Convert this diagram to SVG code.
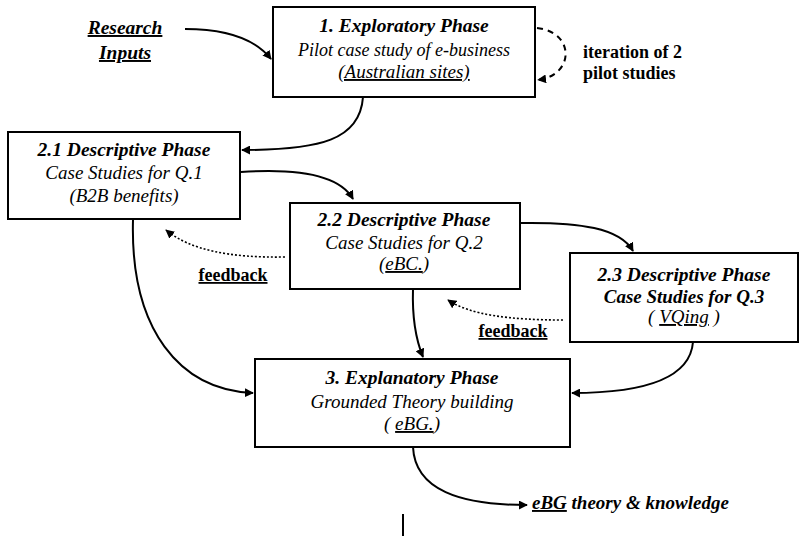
<svg xmlns="http://www.w3.org/2000/svg" width="799" height="536" viewBox="0 0 799 536">
<defs>
<marker id="ah" viewBox="0 0 10 10" refX="9" refY="5" markerWidth="9" markerHeight="9" markerUnits="userSpaceOnUse" orient="auto">
<path d="M0,0 L10,5 L0,10 z" fill="#000"/>
</marker>
<style>
.box{fill:#fff;stroke:#000;stroke-width:2}
text{font-family:'Liberation Serif','Times New Roman',serif;fill:#000;text-anchor:middle}
.t{font-size:19.5px;font-weight:bold;font-style:italic}
.s{font-size:19px;font-style:italic}
.u{text-decoration:underline}
.lab{font-size:18px;font-weight:bold}
.c{fill:none;stroke:#000;stroke-width:2;marker-end:url(#ah)}
.dash{stroke-dasharray:6,5}
.dot{stroke-width:1.6;stroke-dasharray:2,2}
</style>
</defs>
<rect width="799" height="536" fill="#fff"/>
<g id="connectors">
<path class="c" d="M185,29 C230,29 256,40 271,59"/>
<path class="c" d="M363,97 C360,140 320,150 242,150"/>
<path class="c dash" d="M537,28 C575,32 575,75 538,80"/>
<path class="c" d="M241,172 C300,168 340,176 353,199"/>
<path class="c" d="M520,223 C580,222 620,228 633,251"/>
<path class="c dot" d="M285,257 C230,258 190,250 166,230"/>
<path class="c dot" d="M563,320 C510,320 470,315 448,300"/>
<path class="c" d="M133,220 C130,330 180,390 253,393"/>
<path class="c" d="M413,289 C412,320 416,340 423,357"/>
<path class="c" d="M693,342 C690,380 640,393 572,393"/>
<path class="c" d="M413,447 C415,490 460,505 527,505"/>
<line x1="403" y1="514" x2="403" y2="536" stroke="#000" stroke-width="2"/>
</g>
<g id="research-inputs">
<text class="t u" x="125" y="34">Research</text>
<text class="t u" x="125" y="59">Inputs</text>
</g>
<g id="phase1">
<rect class="box" x="273" y="7" width="262" height="90"/>
<text class="t" x="404" y="32">1. Exploratory Phase</text>
<text class="s" x="404" y="56" style="font-size:18px">Pilot case study of e-business</text>
<text class="s u" x="404" y="78">(Australian sites)</text>
</g>
<g id="iteration-label">
<text class="lab" x="583" y="58" style="text-anchor:start">iteration of 2</text>
<text class="lab" x="583" y="79" style="text-anchor:start">pilot studies</text>
</g>
<g id="phase21">
<rect class="box" x="8" y="132" width="232" height="87"/>
<text class="t" x="124" y="156">2.1 Descriptive Phase</text>
<text class="s" x="124" y="179">Case Studies for Q.1</text>
<text class="s" x="124" y="202">(B2B benefits)</text>
</g>
<g id="phase22">
<rect class="box" x="290" y="203" width="230" height="86"/>
<text class="t" x="404" y="226">2.2 Descriptive Phase</text>
<text class="s" x="404" y="249">Case Studies for Q.2</text>
<text class="s" x="404" y="270">(<tspan class="u">eBC.</tspan>)</text>
</g>
<g id="feedback1">
<text class="lab u" x="233" y="281">feedback</text>
</g>
<g id="phase23">
<rect class="box" x="570" y="253" width="228" height="89"/>
<text class="t" x="684" y="281">2.3 Descriptive Phase</text>
<text class="t" x="684" y="303" style="font-size:19px">Case Studies for Q.3</text>
<text class="s" x="684" y="323">( <tspan class="u">VQing</tspan> )</text>
</g>
<g id="feedback2">
<text class="lab u" x="513" y="337">feedback</text>
</g>
<g id="phase3">
<rect class="box" x="255" y="359" width="315" height="88"/>
<text class="t" x="412" y="384">3. Explanatory Phase</text>
<text class="s" x="412" y="408">Grounded Theory building</text>
<text class="s" x="412" y="430">( <tspan class="u">eBG.</tspan>)</text>
</g>
<g id="output">
<text class="t" x="532" y="509" style="text-anchor:start;font-size:19px"><tspan class="u">eBG</tspan> theory &amp; knowledge</text>
</g>
</svg>
